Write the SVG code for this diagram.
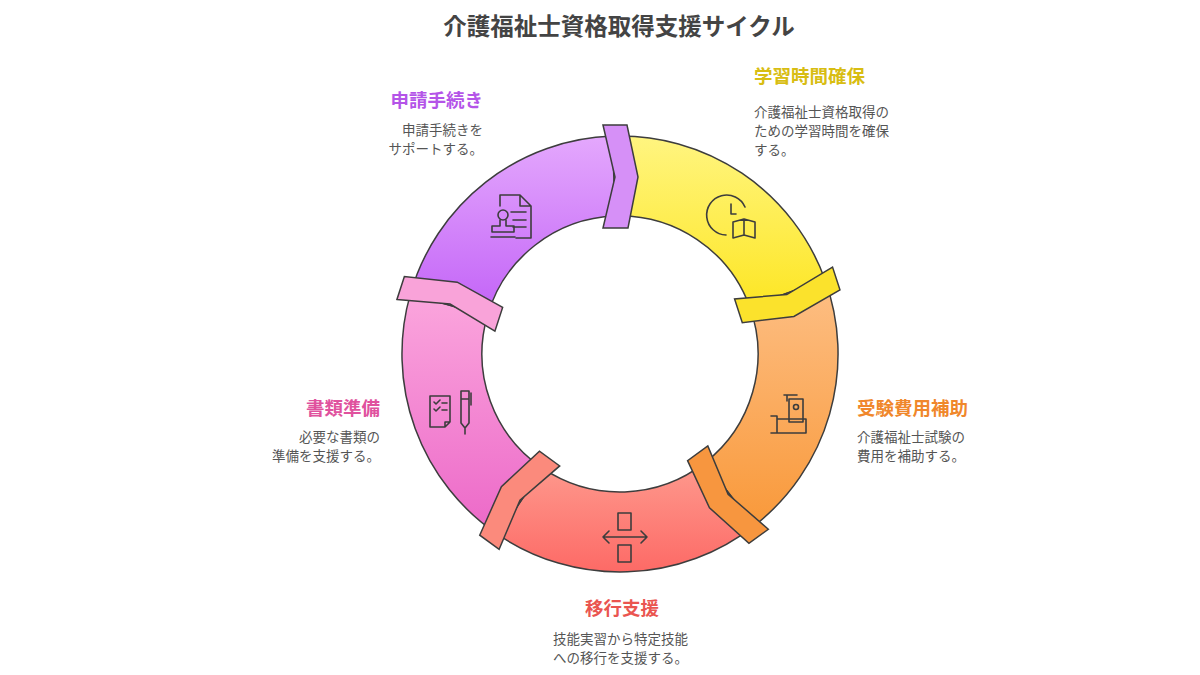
<svg xmlns="http://www.w3.org/2000/svg" width="1200" height="675" viewBox="0 0 1200 675">
<defs>
<linearGradient id="gy" x1="0" y1="0" x2="0" y2="1"><stop offset="0" stop-color="#fff580"/><stop offset="1" stop-color="#fde624"/></linearGradient>
<linearGradient id="go" x1="0" y1="0" x2="0" y2="1"><stop offset="0" stop-color="#fdbf85"/><stop offset="1" stop-color="#f9993a"/></linearGradient>
<linearGradient id="gr" x1="0" y1="0" x2="0" y2="1"><stop offset="0" stop-color="#fe9a8e"/><stop offset="1" stop-color="#fd6a66"/></linearGradient>
<linearGradient id="gp" x1="0" y1="0" x2="0" y2="1"><stop offset="0" stop-color="#fba6dd"/><stop offset="1" stop-color="#ec68c8"/></linearGradient>
<linearGradient id="gv" x1="0" y1="0" x2="0" y2="1"><stop offset="0" stop-color="#e4a8fd"/><stop offset="1" stop-color="#c262f7"/></linearGradient>
<path id="tab" d="M603,125 L615,177 L603,228 L628,228 L638,177 L627,125 Z"/>
</defs>
<style>
.seg{stroke:#3d3d3d;stroke-width:1.5}
.ic{fill:none;stroke:#3d3d3d;stroke-width:1.6;stroke-linecap:round;stroke-linejoin:round}
text{font-family:"Noto Sans CJK JP","Noto Sans",sans-serif}
.t{font-size:18.5px;font-weight:bold}
.d{font-size:13.5px;fill:#555}
</style>
<rect width="1200" height="675" fill="#fff"/>
<text x="619" y="35" text-anchor="middle" style="font-size:23.5px;font-weight:bold;fill:#444">介護福祉士資格取得支援サイクル</text>
<g id="ring">
<path id="seg-yellow" class="seg" fill="url(#gy)" d="M612.4,136.1 A218,218 0 0 1 824.9,279.4 L749.7,306.8 A138,138 0 0 0 615.2,216.1 Z"/>
<path id="seg-orange" class="seg" fill="url(#go)" d="M824.9,279.4 A218,218 0 0 1 754.2,525.8 L705.0,462.7 A138,138 0 0 0 749.7,306.8 Z"/>
<path id="seg-red" class="seg" fill="url(#gr)" d="M754.2,525.8 A218,218 0 0 1 498.1,534.7 L542.8,468.4 A138,138 0 0 0 705.0,462.7 Z"/>
<path id="seg-pink" class="seg" fill="url(#gp)" d="M498.1,534.7 A218,218 0 0 1 410.4,293.9 L487.3,316.0 A138,138 0 0 0 542.8,468.4 Z"/>
<path id="seg-purple" class="seg" fill="url(#gv)" d="M410.4,293.9 A218,218 0 0 1 612.4,136.1 L615.2,216.1 A138,138 0 0 0 487.3,316.0 Z"/>
</g>
<g id="connectors">
<use href="#tab" class="seg" fill="#d690f7"/>
<use href="#tab" class="seg" fill="#fbe22c" transform="rotate(72 620 354)"/>
<use href="#tab" class="seg" fill="#f7963f" transform="rotate(144 620 354)"/>
<use href="#tab" class="seg" fill="#fb8a7c" transform="rotate(216 620 354)"/>
<use href="#tab" class="seg" fill="#f9a3d9" transform="rotate(288 620 354)"/>
</g>
<g id="node-study">
<path class="ic" d="M745,207 A20,20 0 1 0 726,235"/>
<path class="ic" d="M731,204 V214 H736"/>
<path class="ic" d="M733,222 V238 L744,235 L755,238 V222 L744,219 Z M744,219 V235"/>
<text class="t" x="754" y="83" fill="#d8bd12">学習時間確保</text>
<text class="d" x="754" y="117">介護福祉士資格取得の</text>
<text class="d" x="754" y="136">ための学習時間を確保</text>
<text class="d" x="754" y="155">する。</text>
</g>
<g id="node-fee">
<path class="ic" d="M784,395 H797 M787,395 V401 M789,399 H803 V422 H789 Z"/>
<circle class="ic" cx="796" cy="407" r="2.5"/>
<path class="ic" d="M771,416 H777 V433 H771 M777,419 H806 V433 H777"/>
<text class="t" x="857" y="415" fill="#f0872b">受験費用補助</text>
<text class="d" x="857" y="442">介護福祉士試験の</text>
<text class="d" x="857" y="461">費用を補助する。</text>
</g>
<g id="node-transfer">
<path class="ic" d="M618,513 H631 V530 H618 Z M618,545 H631 V562 H618 Z"/>
<path class="ic" d="M603,537 H647 M609,531 L603,537 L609,543 M641,531 L647,537 L641,543"/>
<text class="t" x="622" y="615" text-anchor="middle" fill="#ea5550">移行支援</text>
<text class="d" x="553" y="644">技能実習から特定技能</text>
<text class="d" x="553" y="663">への移行を支援する。</text>
</g>
<g id="node-docs">
<path class="ic" d="M430,396 H450 V422 L445,427 H430 Z M445,427 V422 H450"/>
<path class="ic" d="M434,402 L436,404 L440,400 M434,409 L436,411 L440,407 M442,403 H447 M442,410 H447"/>
<path class="ic" d="M461,391 H469 V423 L465,428 L461,423 Z M461,399 H469 M465,428 V434 M471,393 V405"/>
<text class="t" x="380" y="415" text-anchor="end" fill="#e0529e">書類準備</text>
<text class="d" x="380" y="442" text-anchor="end">必要な書類の</text>
<text class="d" x="380" y="461" text-anchor="end">準備を支援する。</text>
</g>
<g id="node-apply">
<path class="ic" d="M500,206 V195 H520 L531,206 V238 H516 M520,195 V206 H531"/>
<path class="ic" d="M511,212 H526 M513,220 H526 M513,227 H526"/>
<circle class="ic" cx="503" cy="215" r="5"/>
<path class="ic" d="M500,220 V226 H492 V232 H514 V226 H506 V220 M491,237 H515"/>
<text class="t" x="483" y="107" text-anchor="end" fill="#b454e8">申請手続き</text>
<text class="d" x="483" y="135" text-anchor="end">申請手続きを</text>
<text class="d" x="483" y="154" text-anchor="end">サポートする。</text>
</g>
</svg>
